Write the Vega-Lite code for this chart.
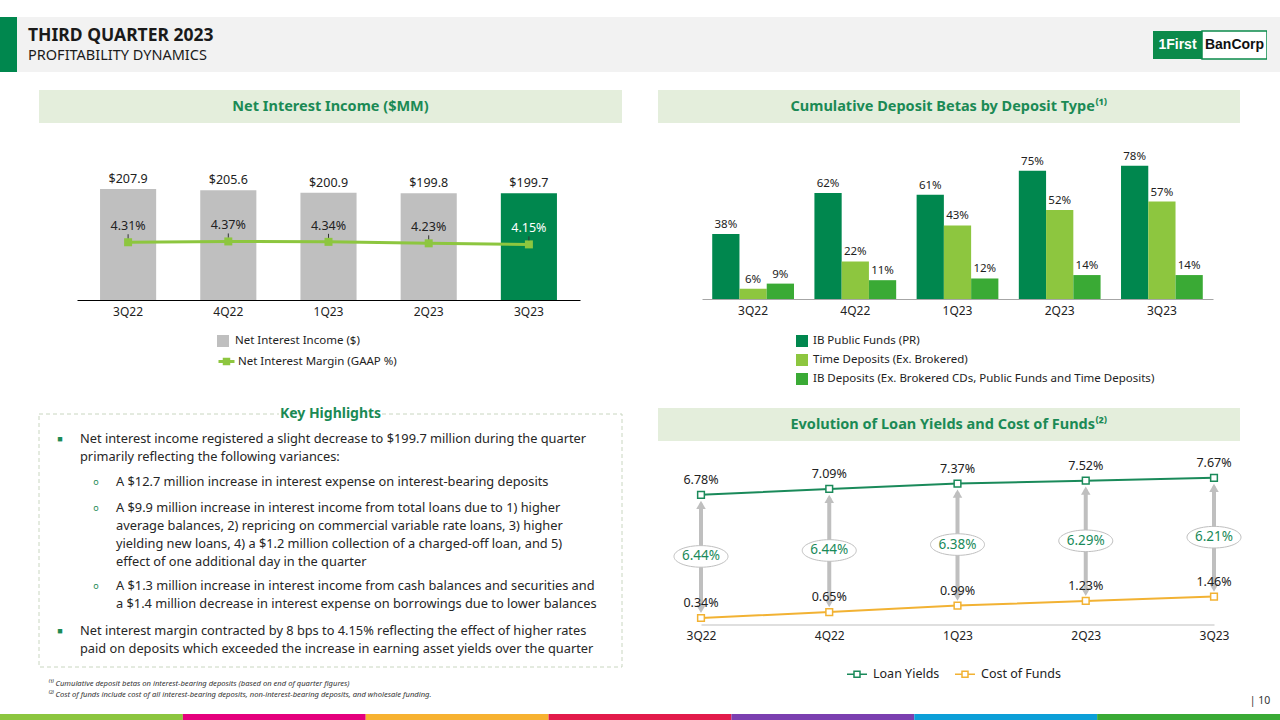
{
  "$schema": "https://vega.github.io/schema/vega-lite/v6.json",
  "background": "white",
  "padding": 0,
  "spacing": 0,
  "resolve": {"scale": {"color": "independent", "stroke": "independent"}, "legend": {"color": "independent", "stroke": "independent"}},
  "config": {
    "font": "Noto Sans",
    "view": {"stroke": null},
    "axis": {"labelFont": "Noto Sans", "titleFont": "Noto Sans"},
    "legend": {"labelFont": "Noto Sans", "padding": 0},
    "title": {"font": "Noto Sans"}
  },
  "vconcat": [
    {"width": 1280, "height": 17, "data": {"values": [{}]}, "mark": {"type": "text", "text": ""}},
    {
      "hconcat": [
        {"width": 17, "height": 55, "view": {"fill": "#00874E", "stroke": null}, "data": {"values": [{}]}, "mark": {"type": "text", "text": ""}},
        {
          "width": 1136, "height": 55, "view": {"fill": "#F2F2F2", "stroke": null},
          "data": {"values": [{"ln": 1, "t": "THIRD QUARTER 2023"}, {"ln": 2, "t": "PROFITABILITY DYNAMICS"}]},
          "encoding": {
            "x": {"field": "ln", "type": "quantitative", "scale": {"domain": [1, 2], "range": [11, 11]}, "axis": null},
            "y": {"field": "ln", "type": "quantitative", "scale": {"domain": [1, 2], "range": [19, 39]}, "axis": null},
            "text": {"field": "t"}
          },
          "layer": [
            {"transform": [{"filter": "datum.ln == 1"}], "mark": {"type": "text", "align": "left", "baseline": "middle", "fontSize": 17.5, "fontWeight": "bold", "color": "#1a1a1a"}},
            {"transform": [{"filter": "datum.ln == 2"}], "mark": {"type": "text", "align": "left", "baseline": "middle", "fontSize": 14.5, "color": "#1a1a1a"}}
          ]
        },
        {
          "width": 49, "height": 55, "view": {"fill": "#F2F2F2", "stroke": null},
          "data": {"values": [{"p": "1First"}]},
          "encoding": {"y": {"field": "p", "type": "nominal", "scale": {"range": [14, 42], "paddingInner": 0, "paddingOuter": 0}, "axis": null}},
          "layer": [
            {"mark": {"type": "bar", "color": "#0B8A4B"}},
            {"mark": {"type": "text", "font": "Liberation Sans", "fontSize": 14, "fontWeight": "bold", "color": "white"}, "encoding": {"text": {"field": "p"}}}
          ]
        },
        {
          "width": 65, "height": 55, "view": {"fill": "#F2F2F2", "stroke": null},
          "data": {"values": [{"p": "BanCorp"}]},
          "encoding": {"y": {"field": "p", "type": "nominal", "scale": {"range": [14, 42], "paddingInner": 0, "paddingOuter": 0}, "axis": null}},
          "layer": [
            {"mark": {"type": "bar", "fill": "white", "stroke": "#0B8A4B", "strokeWidth": 1.5}},
            {"mark": {"type": "text", "font": "Liberation Sans", "fontSize": 14, "fontWeight": "bold", "color": "#111111"}, "encoding": {"text": {"field": "p"}}}
          ]
        },
        {"width": 13, "height": 55, "view": {"fill": "#F2F2F2", "stroke": null}, "data": {"values": [{}]}, "mark": {"type": "text", "text": ""}}
      ],
      "spacing": 0, "bounds": "flush"
    },
    {"width": 1280, "height": 18, "data": {"values": [{}]}, "mark": {"type": "text", "text": ""}},
    {
      "hconcat": [
        {"width": 39, "height": 33, "data": {"values": [{}]}, "mark": {"type": "text", "text": ""}},
        {"width": 583, "height": 33, "view": {"fill": "#E4EEDC", "stroke": null}, "data": {"values": [{"t": "Net Interest Income ($MM)"}]}, "mark": {"type": "text", "fontSize": 14.5, "fontWeight": "bold", "color": "#1B8A55"}, "encoding": {"text": {"field": "t"}}},
        {"width": 36, "height": 33, "data": {"values": [{}]}, "mark": {"type": "text", "text": ""}},
        {"width": 582, "height": 33, "view": {"fill": "#E4EEDC", "stroke": null}, "data": {"values": [{"t": "Cumulative Deposit Betas by Deposit Type⁽¹⁾"}]}, "mark": {"type": "text", "fontSize": 14.5, "fontWeight": "bold", "color": "#1B8A55"}, "encoding": {"text": {"field": "t"}}}
      ],
      "spacing": 0, "bounds": "flush"
    },
    {
      "hconcat": [
        {"width": 77, "height": 284, "data": {"values": [{}]}, "mark": {"type": "text", "text": ""}},
        {
          "width": 503, "height": 177,
          "data": {"values": [
            {"q": "3Q22", "nii": 207.9, "nim": 0.0431},
            {"q": "4Q22", "nii": 205.6, "nim": 0.0437},
            {"q": "1Q23", "nii": 200.9, "nim": 0.0434},
            {"q": "2Q23", "nii": 199.8, "nim": 0.0423},
            {"q": "3Q23", "nii": 199.7, "nim": 0.0415}
          ]},
          "encoding": {
            "x": {"field": "q", "type": "nominal", "sort": null, "scale": {"paddingInner": 0.44, "paddingOuter": 0.23},
              "axis": {"title": null, "domainColor": "#000000", "domainWidth": 1, "ticks": false, "labelFontSize": 12, "labelColor": "#222222", "labelPadding": 6, "labelAngle": 0}}
          },
          "layer": [
            {
              "encoding": {"y": {"field": "nii", "type": "quantitative", "scale": {"domain": [0, 331.5]}, "axis": null}},
              "layer": [
                {"mark": {"type": "bar"},
                 "encoding": {"color": {"datum": "Net Interest Income ($)", "type": "nominal", "scale": {"range": ["#BFBFBF"]},
                   "condition": {"test": "datum.q === '3Q23'", "value": "#00874E"},
                   "legend": {"orient": "none", "legendX": 140, "legendY": 212, "title": null, "symbolType": "square", "symbolSize": 144, "symbolStrokeWidth": 0, "labelFontSize": 11.5, "labelColor": "#222222", "labelOffset": 6}}}},
                {"mark": {"type": "text", "dy": -10, "fontSize": 12.5, "color": "#222222"}, "encoding": {"text": {"field": "nii", "format": "$.1f"}}}
              ]
            },
            {
              "encoding": {"y": {"field": "nim", "type": "quantitative", "scale": {"domain": [0, 0.1321]}, "axis": null}},
              "layer": [
                {"mark": {"type": "line", "strokeWidth": 3},
                 "encoding": {"stroke": {"datum": "Net Interest Margin (GAAP %)", "type": "nominal", "scale": {"range": ["#8DC63F"]},
                   "legend": {"orient": "none", "legendX": 140, "legendY": 229, "title": null, "symbolType": "M-1,0L1,0M-0.28,-0.28L0.28,-0.28L0.28,0.28L-0.28,0.28Z", "symbolSize": 256, "symbolStrokeWidth": 3, "labelFontSize": 11.5, "labelColor": "#222222", "labelOffset": 2}}}},
                {"mark": {"type": "point", "shape": "square", "filled": true, "size": 64, "color": "#8DC63F", "opacity": 1}},
                {"mark": {"type": "rule", "yOffset": -4, "y2Offset": -8, "color": "#333333", "strokeWidth": 1}, "encoding": {"y2": {"field": "nim"}}},
                {"mark": {"type": "text", "dy": -16, "fontSize": 12.5},
                 "encoding": {"text": {"field": "nim", "format": ".2%"}, "color": {"condition": {"test": "datum.q === '3Q23'", "value": "white"}, "value": "#222222"}}}
              ]
            }
          ],
          "resolve": {"scale": {"y": "independent"}}
        },
        {"width": 122, "height": 284, "data": {"values": [{}]}, "mark": {"type": "text", "text": ""}},
        {
          "width": 511, "height": 176,
          "data": {"values": [
            {"q": "3Q22", "t": "IB Public Funds (PR)", "v": 0.38},
            {"q": "3Q22", "t": "Time Deposits (Ex. Brokered)", "v": 0.06},
            {"q": "3Q22", "t": "IB Deposits (Ex. Brokered CDs, Public Funds and Time Deposits)", "v": 0.09},
            {"q": "4Q22", "t": "IB Public Funds (PR)", "v": 0.62},
            {"q": "4Q22", "t": "Time Deposits (Ex. Brokered)", "v": 0.22},
            {"q": "4Q22", "t": "IB Deposits (Ex. Brokered CDs, Public Funds and Time Deposits)", "v": 0.11},
            {"q": "1Q23", "t": "IB Public Funds (PR)", "v": 0.61},
            {"q": "1Q23", "t": "Time Deposits (Ex. Brokered)", "v": 0.43},
            {"q": "1Q23", "t": "IB Deposits (Ex. Brokered CDs, Public Funds and Time Deposits)", "v": 0.12},
            {"q": "2Q23", "t": "IB Public Funds (PR)", "v": 0.75},
            {"q": "2Q23", "t": "Time Deposits (Ex. Brokered)", "v": 0.52},
            {"q": "2Q23", "t": "IB Deposits (Ex. Brokered CDs, Public Funds and Time Deposits)", "v": 0.14},
            {"q": "3Q23", "t": "IB Public Funds (PR)", "v": 0.78},
            {"q": "3Q23", "t": "Time Deposits (Ex. Brokered)", "v": 0.57},
            {"q": "3Q23", "t": "IB Deposits (Ex. Brokered CDs, Public Funds and Time Deposits)", "v": 0.14}
          ]},
          "encoding": {
            "x": {"field": "q", "type": "nominal", "sort": null, "scale": {"paddingInner": 0.2, "paddingOuter": 0.1},
              "axis": {"title": null, "domainColor": "#A6A6A6", "domainWidth": 1, "ticks": false, "labelFontSize": 12, "labelColor": "#222222", "labelPadding": 6, "labelAngle": 0}},
            "xOffset": {"field": "t", "type": "nominal", "sort": null, "scale": {"paddingInner": 0, "paddingOuter": 0}},
            "y": {"field": "v", "type": "quantitative", "scale": {"domain": [0, 1.0293]}, "axis": null}
          },
          "layer": [
            {"mark": {"type": "bar"},
             "encoding": {"color": {"field": "t", "type": "nominal", "sort": null,
               "scale": {"domain": ["IB Public Funds (PR)", "Time Deposits (Ex. Brokered)", "IB Deposits (Ex. Brokered CDs, Public Funds and Time Deposits)"], "range": ["#00874E", "#8DC63F", "#3AAA35"]},
               "legend": {"orient": "none", "legendX": 94, "legendY": 212, "title": null, "symbolType": "square", "symbolSize": 144, "symbolStrokeWidth": 0, "labelFontSize": 11.5, "labelColor": "#222222", "labelOffset": 5, "rowPadding": 7, "labelLimit": 400}}}},
            {"mark": {"type": "text", "dy": -9, "fontSize": 11.5, "color": "#222222"}, "encoding": {"text": {"field": "v", "format": ".0%"}}}
          ]
        }
      ],
      "spacing": 0, "bounds": "flush",
      "resolve": {"scale": {"color": "independent", "stroke": "independent"}, "legend": {"color": "independent", "stroke": "independent"}}
    },
    {
      "hconcat": [
        {"width": 39, "height": 306, "data": {"values": [{}]}, "mark": {"type": "text", "text": ""}},
        {
          "width": 583, "height": 306,
          "layer": [
            {
              "data": {"values": [{"b": "box"}]},
              "mark": {"type": "bar", "fill": "white", "stroke": "#C9D6C0", "strokeDash": [4, 3], "strokeWidth": 1},
              "encoding": {"y": {"field": "b", "type": "nominal", "scale": {"range": [6, 259], "paddingInner": 0, "paddingOuter": 0}, "axis": null}}
            },
            {
              "data": {"values": [{"t": "Key Highlights"}]},
              "encoding": {
                "x": {"field": "t", "type": "nominal", "scale": {"range": [240, 343], "paddingInner": 0, "paddingOuter": 0}, "axis": null},
                "y": {"field": "t", "type": "nominal", "scale": {"range": [0, 12], "paddingInner": 0, "paddingOuter": 0}, "axis": null}
              },
              "layer": [
                {"mark": {"type": "bar", "fill": "white"}},
                {"mark": {"type": "text", "fontSize": 14, "fontWeight": "bold", "color": "#1B8A55"}, "encoding": {"text": {"field": "t"}}}
              ]
            },
            {
              "data": {"values": [
                {"ln": 1, "lvl": 1, "first": true, "t": "Net interest income registered a slight decrease to $199.7 million during the quarter"},
                {"ln": 2, "lvl": 1, "first": false, "t": "primarily reflecting the following variances:"},
                {"ln": 3, "lvl": 2, "first": true, "t": "A $12.7 million increase in interest expense on interest-bearing deposits"},
                {"ln": 4, "lvl": 2, "first": true, "t": "A $9.9 million increase in interest income from total loans due to 1) higher"},
                {"ln": 5, "lvl": 2, "first": false, "t": "average balances, 2) repricing on commercial variable rate loans, 3) higher"},
                {"ln": 6, "lvl": 2, "first": false, "t": "yielding new loans, 4) a $1.2 million collection  of a charged-off loan, and 5)"},
                {"ln": 7, "lvl": 2, "first": false, "t": "effect of one additional day in the quarter"},
                {"ln": 8, "lvl": 2, "first": true, "t": "A $1.3 million increase in interest income from cash balances and securities and"},
                {"ln": 9, "lvl": 2, "first": false, "t": "a $1.4 million decrease in interest expense on borrowings due to lower  balances"},
                {"ln": 10, "lvl": 1, "first": true, "t": "Net interest margin contracted  by 8 bps to 4.15% reflecting  the effect of higher rates"},
                {"ln": 11, "lvl": 1, "first": false, "t": "paid on deposits which exceeded the increase in earning asset yields over the quarter"}
              ]},
              "encoding": {
                "x": {"field": "lvl", "type": "quantitative", "scale": {"domain": [1, 2], "range": [41, 77]}, "axis": null},
                "y": {"field": "ln", "type": "quantitative", "scale": {"domain": [1, 2, 3, 4, 7, 8, 9, 10, 11], "range": [31, 49, 74, 100, 154, 178, 196, 223, 241]}, "axis": null}
              },
              "layer": [
                {"mark": {"type": "text", "align": "left", "baseline": "middle", "fontSize": 12.8, "color": "#262626"}, "encoding": {"text": {"field": "t"}}},
                {"transform": [{"filter": "datum.first"}],
                 "mark": {"type": "text", "align": "center", "baseline": "middle", "fontSize": 9, "color": "#1B8A55", "dx": -20},
                 "encoding": {"text": {"condition": {"test": "datum.lvl == 1", "value": "■"}, "value": "o"}}}
              ]
            },
            {
              "data": {"values": [
                {"ln": 1, "t": "⁽¹⁾ Cumulative deposit betas on interest-bearing deposits (based on end of quarter figures)"},
                {"ln": 2, "t": "⁽²⁾ Cost of funds include cost of all interest-bearing deposits, non-interest-bearing deposits, and wholesale funding."}
              ]},
              "mark": {"type": "text", "align": "left", "baseline": "middle", "fontSize": 7.6, "fontStyle": "italic", "color": "#333333"},
              "encoding": {
                "x": {"field": "ln", "type": "quantitative", "scale": {"domain": [1, 2], "range": [9, 9]}, "axis": null},
                "y": {"field": "ln", "type": "quantitative", "scale": {"domain": [1, 2], "range": [276, 287]}, "axis": null},
                "text": {"field": "t"}
              }
            }
          ],
          "resolve": {"scale": {"x": "independent", "y": "independent"}}
        },
        {"width": 36, "height": 306, "data": {"values": [{}]}, "mark": {"type": "text", "text": ""}},
        {
          "width": 582, "height": 216.5,
          "layer": [
            {
              "data": {"values": [{"h": "Evolution of Loan Yields and Cost of Funds⁽²⁾"}]},
              "encoding": {"y": {"field": "h", "type": "nominal", "scale": {"range": [0, 33], "paddingInner": 0, "paddingOuter": 0}, "axis": null}},
              "layer": [
                {"mark": {"type": "bar", "color": "#E4EEDC"}},
                {"mark": {"type": "text", "fontSize": 14.5, "fontWeight": "bold", "color": "#1B8A55"}, "encoding": {"text": {"field": "h"}}}
              ]
            },
            {
              "data": {"values": [
                {"q": "3Q22", "Loan Yields": 0.0678, "Cost of Funds": 0.0034, "spread": 0.0644, "mid": 0.0356},
                {"q": "4Q22", "Loan Yields": 0.0709, "Cost of Funds": 0.0065, "spread": 0.0644, "mid": 0.0387},
                {"q": "1Q23", "Loan Yields": 0.0737, "Cost of Funds": 0.0099, "spread": 0.0638, "mid": 0.0418},
                {"q": "2Q23", "Loan Yields": 0.0752, "Cost of Funds": 0.0123, "spread": 0.0629, "mid": 0.04375},
                {"q": "3Q23", "Loan Yields": 0.0767, "Cost of Funds": 0.0146, "spread": 0.0621, "mid": 0.04565}
              ]},
              "encoding": {
                "x": {"field": "q", "type": "ordinal", "sort": null, "scale": {"type": "point", "padding": 0, "range": [43, 556]},
                  "axis": {"title": null, "domainColor": "#BFBFBF", "domainWidth": 1, "ticks": false, "labelFontSize": 12, "labelColor": "#222222", "labelPadding": 6, "labelAngle": 0}}
              },
              "layer": [
                {"mark": {"type": "rule", "color": "#BFBFBF", "strokeWidth": 4, "yOffset": -9, "y2Offset": 9},
                 "encoding": {"y": {"field": "Cost of Funds", "type": "quantitative", "scale": {"domain": [0, 0.08], "range": [216.5, 63.5]}, "axis": null}, "y2": {"field": "Loan Yields"}}},
                {"mark": {"type": "point", "shape": "triangle-up", "filled": true, "color": "#BFBFBF", "size": 90, "opacity": 1, "yOffset": 10},
                 "encoding": {"y": {"field": "Loan Yields", "type": "quantitative"}}},
                {"mark": {"type": "point", "shape": "triangle-down", "filled": true, "color": "#BFBFBF", "size": 90, "opacity": 1, "yOffset": -9},
                 "encoding": {"y": {"field": "Cost of Funds", "type": "quantitative"}}},
                {"transform": [{"fold": ["Loan Yields", "Cost of Funds"], "as": ["series", "v"]}],
                 "encoding": {"y": {"field": "v", "type": "quantitative"},
                   "color": {"field": "series", "type": "nominal", "scale": {"domain": ["Loan Yields", "Cost of Funds"], "range": ["#1A8A5A", "#F2B233"]},
                     "legend": {"orient": "none", "legendX": 188, "legendY": 255, "direction": "horizontal", "title": null, "symbolType": "M-1,0L-0.3,0M0.3,0L1,0M-0.3,-0.3L0.3,-0.3L0.3,0.3L-0.3,0.3Z", "symbolSize": 400, "symbolStrokeWidth": 1.5, "labelFontSize": 12.5, "labelColor": "#222222", "labelOffset": 5, "columnPadding": 12}}},
                 "layer": [
                   {"mark": {"type": "line", "strokeWidth": 2}},
                   {"mark": {"type": "point", "shape": "square", "filled": false, "fill": "white", "size": 45, "strokeWidth": 1.5, "opacity": 1}},
                   {"mark": {"type": "text", "dy": -15, "fontSize": 12.5, "color": "#222222"}, "encoding": {"text": {"field": "v", "format": ".2%"}, "color": {"value": "#222222"}}}
                 ]},
                {"mark": {"type": "point", "shape": "M-1,0C-1,-0.2209 -0.5523,-0.4 0,-0.4C0.5523,-0.4 1,-0.2209 1,0C1,0.2209 0.5523,0.4 0,0.4C-0.5523,0.4 -1,0.2209 -1,0Z", "size": 2916, "filled": true, "fill": "white", "stroke": "#BFBFBF", "strokeWidth": 1, "opacity": 1},
                 "encoding": {"y": {"field": "mid", "type": "quantitative"}}},
                {"mark": {"type": "text", "fontSize": 13.5, "color": "#1A8A5A"},
                 "encoding": {"y": {"field": "mid", "type": "quantitative"}, "text": {"field": "spread", "format": ".2%"}}}
              ]
            }
          ],
          "resolve": {"scale": {"x": "independent", "y": "independent"}}
        },
        {
          "width": 40, "height": 306,
          "data": {"values": [{"t": "| 10"}]},
          "mark": {"type": "text", "fontSize": 10.5, "color": "#333333"},
          "encoding": {"y": {"field": "t", "type": "nominal", "scale": {"range": [286, 300], "paddingInner": 0, "paddingOuter": 0}, "axis": null}, "text": {"field": "t"}}
        }
      ],
      "spacing": 0, "bounds": "flush",
      "resolve": {"scale": {"color": "independent", "stroke": "independent"}, "legend": {"color": "independent", "stroke": "independent"}}
    },
    {
      "width": 1280, "height": 7,
      "data": {"values": [{"s": 1}, {"s": 2}, {"s": 3}, {"s": 4}, {"s": 5}, {"s": 6}, {"s": 7}]},
      "mark": {"type": "bar"},
      "encoding": {
        "x": {"field": "s", "type": "ordinal", "scale": {"paddingInner": 0, "paddingOuter": 0}, "axis": null},
        "color": {"field": "s", "type": "ordinal", "scale": {"range": ["#8CC63F", "#E5007D", "#F7B231", "#E31B4B", "#7B3FB0", "#0C9FD8", "#3AAA35"]}, "legend": null}
      }
    }
  ]
}
